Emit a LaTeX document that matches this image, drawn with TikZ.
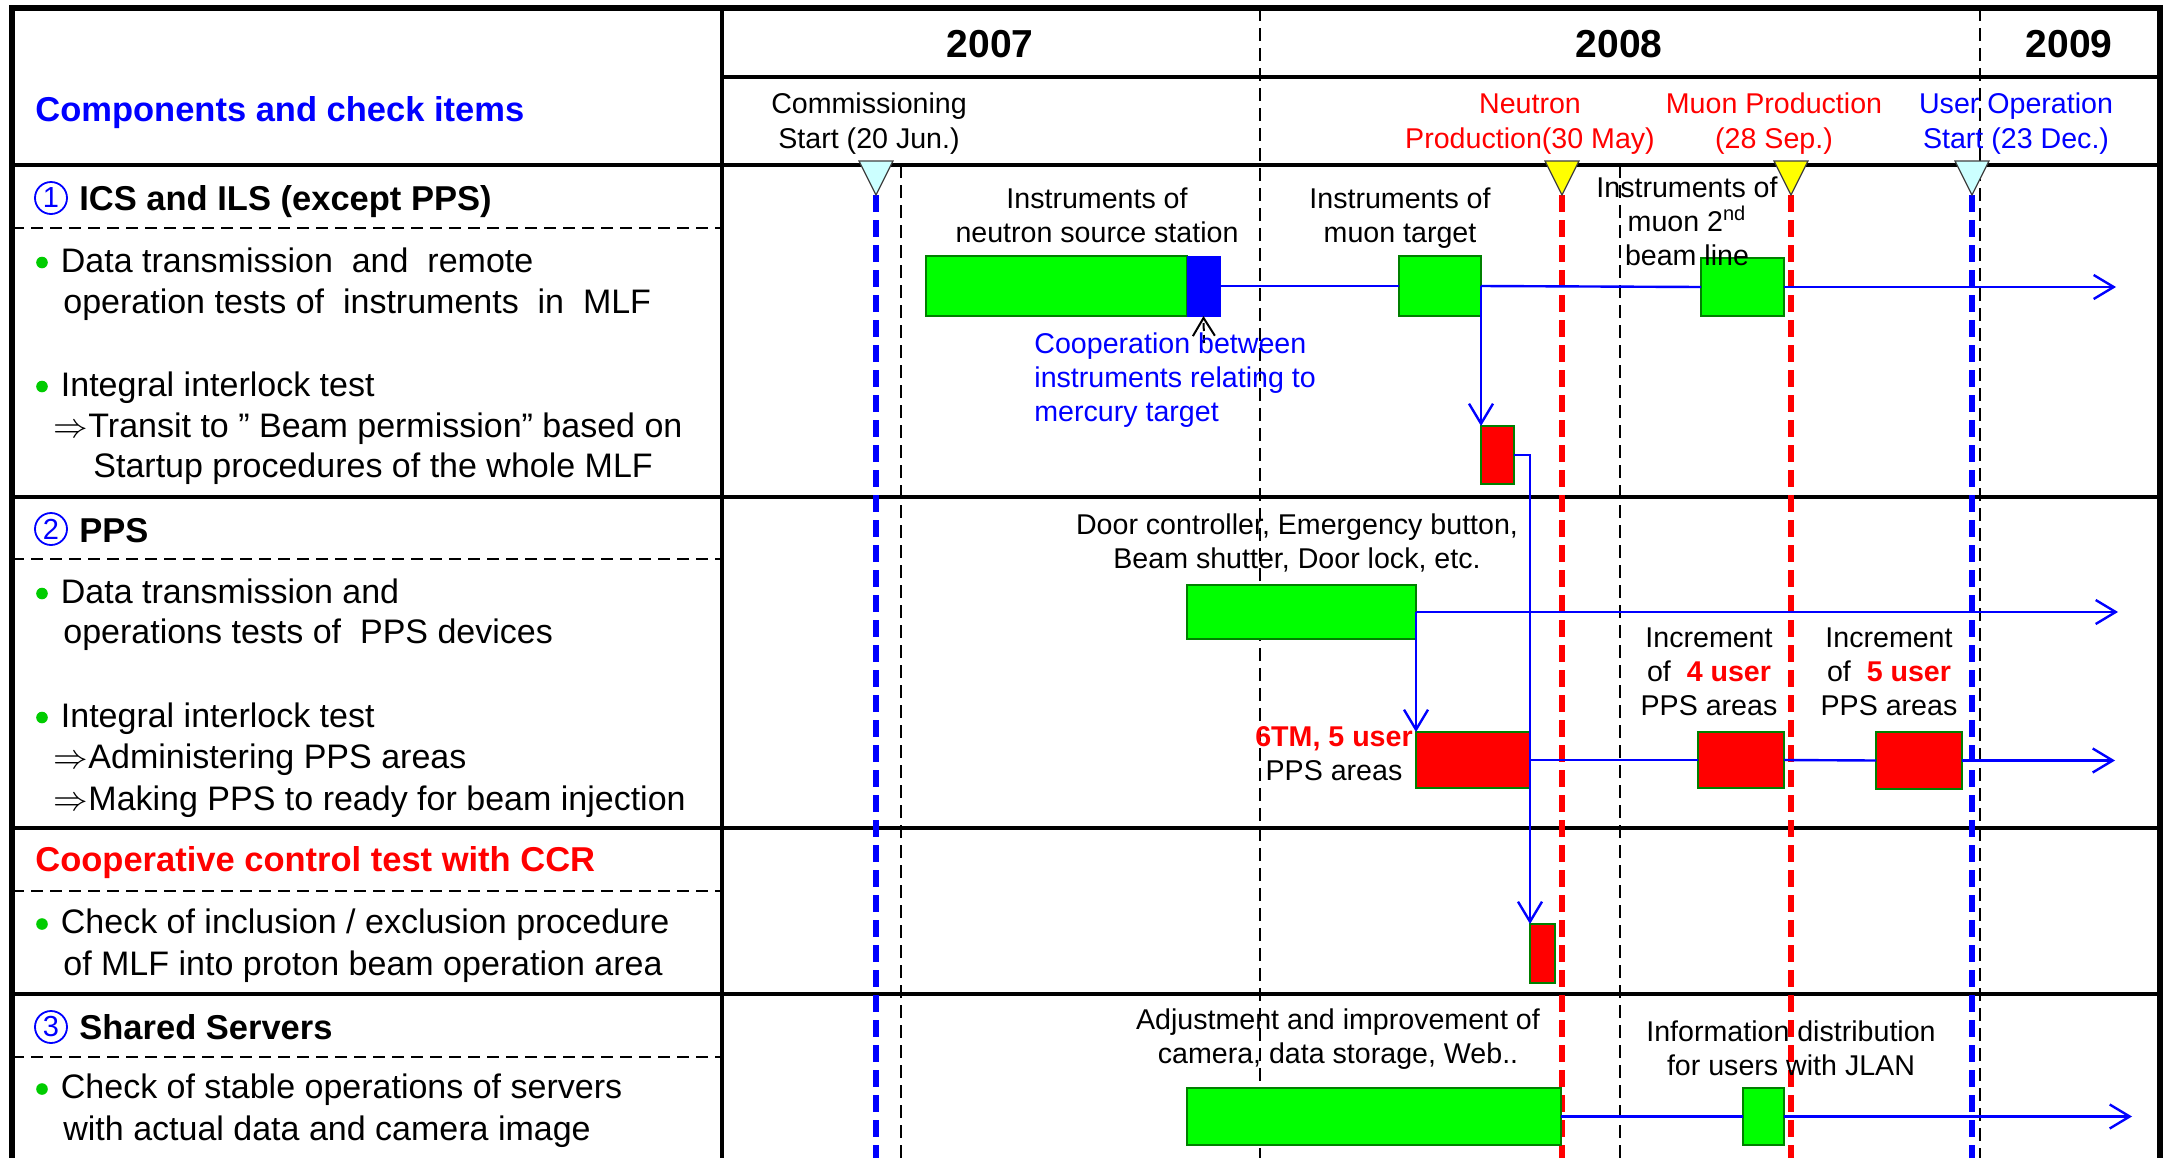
\documentclass[tikz,border=0pt]{standalone}
\usepackage{fontspec}
\setmainfont{Liberation Sans}
\usetikzlibrary{arrows.meta}

\definecolor{barGreen}{RGB}{0,255,0}
\definecolor{edgeGreen}{RGB}{0,128,0}
\definecolor{barRed}{RGB}{255,0,0}
\definecolor{lineBlue}{RGB}{0,0,255}
\definecolor{triCyan}{RGB}{204,255,255}
\definecolor{triYellow}{RGB}{255,255,0}
\definecolor{triEdge}{RGB}{64,64,64}
\definecolor{dotGreen}{RGB}{0,204,0}

% task bar as a named node spanning (x1,y1)-(x2,y2)
\newcommand\mkbar[6]{\node[#2, minimum width={(#5-#3)*0.5pt}, minimum height={(#6-#4)*0.5pt}] (#1) at ({(#3+#5)/2},{(#4+#6)/2}) {};}
% milestone: triangle marker on the header rule and dashed line below it
\newcommand\milestone[4]{%
  \coordinate (#1) at (#2,195);
  \draw[mile, #4] (#1) -- (#2,1160);
  \filldraw[fill=#3, draw=triEdge, line width=0.6pt] ({#2-17},161) -- ({#2+17},161) -- (#1) -- cycle;}
% green bullet dot
\newcommand\dotmark[1]{\fill[dotGreen] (42,#1) circle (5.8);}

\begin{document}
\begin{tikzpicture}[x=0.5pt, y=-0.5pt,
  frame/.style={line width=2.8pt, line cap=rect},
  rule/.style={line width=1.6pt},
  sepline/.style={line width=0.8pt, dash pattern=on 6pt off 3.5pt},
  gridline/.style={line width=0.9pt, dash pattern=on 6.5pt off 3.5pt},
  mile/.style={line width=2.8pt, dash pattern=on 8.5pt off 4pt},
  gbar/.style={draw=edgeGreen, fill=barGreen, line width=1pt, inner sep=0, outer sep=0},
  rbar/.style={draw=edgeGreen, fill=barRed, line width=1pt, inner sep=0, outer sep=0},
  bbar/.style={draw=lineBlue, fill=lineBlue, line width=0.5pt, inner sep=0, outer sep=0},
  link/.style={draw=lineBlue, line width=1.2pt},
  linkarrow/.style={link, -{Straight Barb[length=10pt, width=12pt]}},
  pointer/.style={black, line width=1pt, dash pattern=on 4pt off 2pt, -{Straight Barb[length=9pt, width=11pt]}},
  body/.style={font=\fontsize{17}{20.5}\selectfont, inner sep=0, anchor=base west},
  head/.style={font=\fontsize{17.25}{20.5}\selectfont\bfseries, inner sep=0, anchor=base west},
  numring/.style={circle, draw=lineBlue, text=lineBlue, line width=0.9pt, minimum size=16pt, inner sep=0, font=\fontsize{14.5}{14.5}\selectfont},
  lbl/.style={font=\fontsize{14.3}{17}\selectfont, inner sep=0, align=center, anchor=base},
  year/.style={font=\fontsize{19.5}{22}\selectfont\bfseries, inner sep=0, anchor=base}
]
\useasboundingbox (0,0) rectangle (2168,1157);
\fill[white] (0,0) rectangle (2168,1157);

% ---------- table rules ----------
\draw[rule] (722,77) -- (2160,77);
\draw[rule] (12,165) -- (2160,165);
\draw[rule] (12,497) -- (2160,497);
\draw[rule] (12,828) -- (2160,828);
\draw[rule] (12,994) -- (2160,994);
\draw[rule] (722,8) -- (722,1160);
\draw[sepline] (12,228) -- (722,228);
\draw[sepline] (12,559) -- (722,559);
\draw[sepline] (12,891) -- (722,891);
\draw[sepline] (12,1057) -- (722,1057);
\draw[frame] (12,1160) -- (12,8) -- (2160,8) -- (2160,1160);

% ---------- time grid ----------
\draw[gridline] (1260,8) -- (1260,1160);
\draw[gridline] (1980,8) -- (1980,1160);
\draw[gridline] (901,165) -- (901,1160);
\draw[gridline] (1620,165) -- (1620,1160);

% ---------- milestones ----------
\milestone{mComm}{876}{triCyan}{lineBlue}
\milestone{mNeut}{1562}{triYellow}{barRed}
\milestone{mMuon}{1791}{triYellow}{barRed}
\milestone{mUser}{1972}{triCyan}{lineBlue}

% ---------- bars ----------
\mkbar{nsrc}{gbar}{926}{256}{1187}{316}
\mkbar{coop}{bbar}{1187}{256}{1220}{316}
\mkbar{mtgt}{gbar}{1399}{256}{1481}{316}
\mkbar{msec}{gbar}{1701}{258}{1784}{316}
\mkbar{ilk}{rbar}{1481}{426}{1514}{484}
\mkbar{ppsdev}{gbar}{1187}{585}{1416}{639}
\mkbar{ppsa}{rbar}{1416}{732}{1530}{788}
\mkbar{ppsb}{rbar}{1698}{732}{1784}{788}
\mkbar{ppsc}{rbar}{1876}{732}{1962}{789}
\mkbar{ccr}{rbar}{1530}{924}{1555}{983}
\mkbar{srv}{gbar}{1187}{1088}{1561}{1145}
\mkbar{jlan}{gbar}{1743}{1088}{1784}{1145}

% ---------- connectors ----------
\coordinate (endA) at (2116,287);
\coordinate (endB) at (2118,612);
\coordinate (endC) at (2115,760.5);
\coordinate (endD) at (2132,1116.5);
\coordinate (coopTail) at (1204,343);
\draw[link] (coop.east) -- (mtgt.west);
\draw[link] (mtgt.east) -- (msec.west);
\draw[linkarrow] (msec.east) -- (endA);
\draw[linkarrow] (mtgt.east) -- (ilk.north west);
\draw[linkarrow] (ilk.east) -| (ccr.north west);
\draw[linkarrow] (ppsdev.east) -- (endB);
\draw[linkarrow] (ppsdev.east) -- (ppsa.north west);
\draw[link] (ppsa.east) -- (ppsb.west);
\draw[link] (ppsb.east) -- (ppsc.west);
\draw[linkarrow] (ppsc.east) -- (endC);
\draw[link] (srv.east) -- (jlan.west);
\draw[linkarrow] (jlan.east) -- (endD);
\draw[pointer] (coopTail) -- (coop.south);

% ---------- header ----------
\node[head, text=lineBlue] (hdr) at (35,121) {Components and check items};
\node[year] (y2007) at (990,57) {2007};
\node[year] (y2008) at (1619,57) {2008};
\node[year] (y2009) at (2069,57) {2009};
\node[lbl, font=\fontsize{14.3}{17.5}\selectfont] (lComm) at (869,148) {Commissioning\\Start (20 Jun.)};
\node[lbl, text=barRed, font=\fontsize{14.3}{17.5}\selectfont] (lNeut) at (1530,148) {Neutron\\Production(30 May)};
\node[lbl, text=barRed, font=\fontsize{14.3}{17.5}\selectfont] (lMuon) at (1774,148) {Muon Production\\(28 Sep.)};
\node[lbl, text=lineBlue, font=\fontsize{14.3}{17.5}\selectfont] (lUser) at (2016,148) {User Operation\\Start (23 Dec.)};

% ---------- row 1: ICS and ILS ----------
\node[numring] (n1) at (51,198) {1};
\node[head] (t1) at (79,210) {ICS and ILS (except PPS)};
\dotmark{262.5}
\node[body] (a1) at (60.5,272) {Data transmission\ \ and\ \ remote};
\node[body] (a2) at (63,313) {operation tests of\ \ instruments\ \ in\ \ MLF};
\dotmark{386.5}
\node[body] (a3) at (60.5,396) {Integral interlock test};
\node[body] (a4) at (53.5,437) {$\Rightarrow$Transit to ” Beam permission” based on};
\node[body] (a5) at (93,477) {Startup procedures of the whole MLF};

\node[lbl] (lNsrc) at (1097,242) {Instruments of\\neutron source station};
\node[lbl] (lMtgt) at (1400,242) {Instruments of\\muon target};
\node[lbl] (lMsec) at (1687,265) {Instruments of\\muon 2\textsuperscript{nd}\\beam line};
\node[lbl, align=left, anchor=base west, text=lineBlue] (lCoop) at (1034,421) {Cooperation between\\instruments relating to\\mercury target};

% ---------- row 2: PPS ----------
\node[numring] (n2) at (51,529) {2};
\node[head] (t2) at (79,542) {PPS};
\dotmark{593.5}
\node[body] (b1) at (60.5,603) {Data transmission and};
\node[body] (b2) at (63,643) {operations tests of\ \ PPS devices};
\dotmark{717.5}
\node[body] (b3) at (60.5,727) {Integral interlock test};
\node[body] (b4) at (53.5,768) {$\Rightarrow$Administering PPS areas};
\node[body] (b5) at (53.5,810) {$\Rightarrow$Making PPS to ready for beam injection};

\node[lbl] (lDoor) at (1297,568) {Door controller, Emergency button,\\Beam shutter, Door lock, etc.};
\node[lbl] (lSix) at (1334,780) {\textcolor{barRed}{\bfseries 6TM, 5 user}\\PPS areas};
\node[lbl] (lFour) at (1709,715) {Increment\\of\ \ \textcolor{barRed}{\bfseries 4 user}\\PPS areas};
\node[lbl] (lFive) at (1889,715) {Increment\\of\ \ \textcolor{barRed}{\bfseries 5 user}\\PPS areas};

% ---------- row 3: cooperative control ----------
\node[head, text=barRed] (t3) at (35,871) {Cooperative control test with CCR};
\dotmark{924}
\node[body] (c1) at (60.5,933) {Check of inclusion / exclusion procedure};
\node[body] (c2) at (63,975) {of MLF into proton beam operation area};

% ---------- row 4: shared servers ----------
\node[numring] (n3) at (51,1027) {3};
\node[head] (t4) at (79,1039) {Shared Servers};
\dotmark{1089}
\node[body] (d1) at (60.5,1098) {Check of stable operations of servers};
\node[body] (d2) at (63,1140) {with actual data and camera image};

\node[lbl] (lAdj) at (1338,1063) {Adjustment and improvement of\\camera, data storage, Web..};
\node[lbl] (lInfo) at (1791,1075) {Information distribution\\for users with JLAN};
\end{tikzpicture}
\end{document}
